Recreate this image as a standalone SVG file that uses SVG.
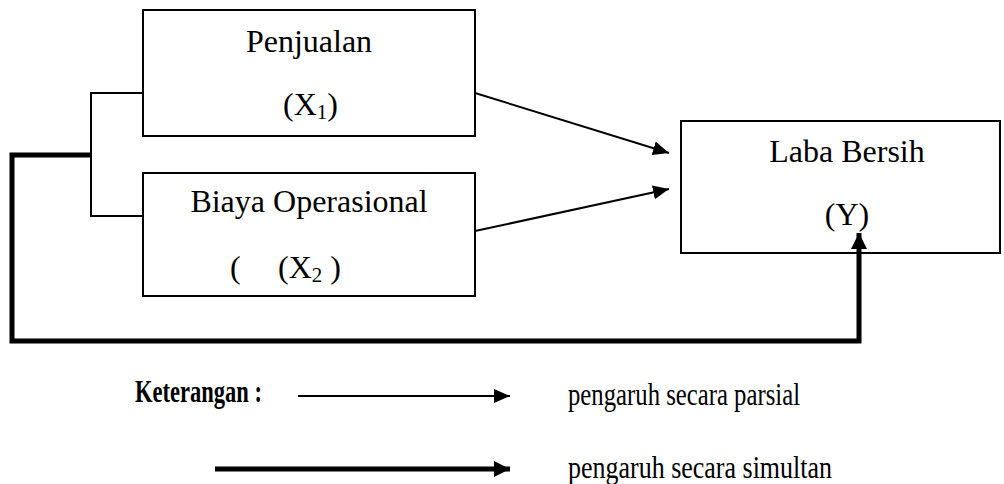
<svg xmlns="http://www.w3.org/2000/svg" width="1004" height="484" viewBox="0 0 1004 484">
<style>
  .box { fill: #fff; stroke: #000; stroke-width: 2; }
  .t { font-family: "Liberation Serif", "Times New Roman", serif; font-size: 32px; fill: #000; }
  .lg { font-family: "Liberation Serif", "Times New Roman", serif; font-size: 32px; fill: #000; }
  .thin { fill: none; stroke: #000; stroke-width: 2; }
  .thick { fill: none; stroke: #000; stroke-width: 5; }
</style>
<defs>
  <marker id="ah" markerUnits="userSpaceOnUse" markerWidth="18" markerHeight="14" refX="16" refY="7" orient="auto">
    <path d="M0,0 L16,7 L0,14 Z" fill="#000"/>
  </marker>
  <marker id="ahb" markerUnits="userSpaceOnUse" markerWidth="18" markerHeight="18" refX="16" refY="9" orient="auto">
    <path d="M0,1 L16,9 L0,17 Z" fill="#000"/>
  </marker>
</defs>
<g id="penjualan">
  <rect class="box" x="143" y="10" width="332" height="126"/>
  <text class="t" x="309" y="52" text-anchor="middle">Penjualan</text>
  <text class="t" x="283" y="115">(X<tspan font-size="21" dy="4">1</tspan><tspan dy="-4">)</tspan></text>
</g>
<g id="biaya">
  <rect class="box" x="143" y="173" width="332" height="123"/>
  <text class="t" x="309" y="212" text-anchor="middle">Biaya Operasional</text>
  <text class="t" x="230" y="278">(</text>
  <text class="t" x="278" y="278">(X<tspan font-size="21" dy="4">2</tspan><tspan dy="-4"> )</tspan></text>
</g>
<g id="laba">
  <rect class="box" x="681" y="121" width="319" height="132"/>
  <text class="t" x="847" y="162" text-anchor="middle">Laba Bersih</text>
  <text class="t" x="847" y="225" text-anchor="middle">(Y)</text>
</g>
<g id="connectors">
  <path class="thin" d="M143,93 H91 V216 H143"/>
  <path class="thick" d="M91,155 H12 V341 H859 V233" marker-end="url(#ahb)"/>
  <line class="thin" x1="475" y1="93" x2="669" y2="153" marker-end="url(#ah)"/>
  <line class="thin" x1="475" y1="231" x2="669" y2="189" marker-end="url(#ah)"/>
</g>
<g id="legend">
  <text class="lg" x="135" y="402" font-weight="bold" textLength="127" lengthAdjust="spacingAndGlyphs">Keterangan :</text>
  <line class="thin" x1="298" y1="396" x2="510" y2="396" marker-end="url(#ah)"/>
  <text class="lg" x="568" y="405" textLength="232" lengthAdjust="spacingAndGlyphs">pengaruh secara parsial</text>
  <line class="thick" x1="215" y1="469" x2="510" y2="469" marker-end="url(#ahb)"/>
  <text class="lg" x="568" y="478" textLength="264" lengthAdjust="spacingAndGlyphs">pengaruh secara simultan</text>
</g>
</svg>
